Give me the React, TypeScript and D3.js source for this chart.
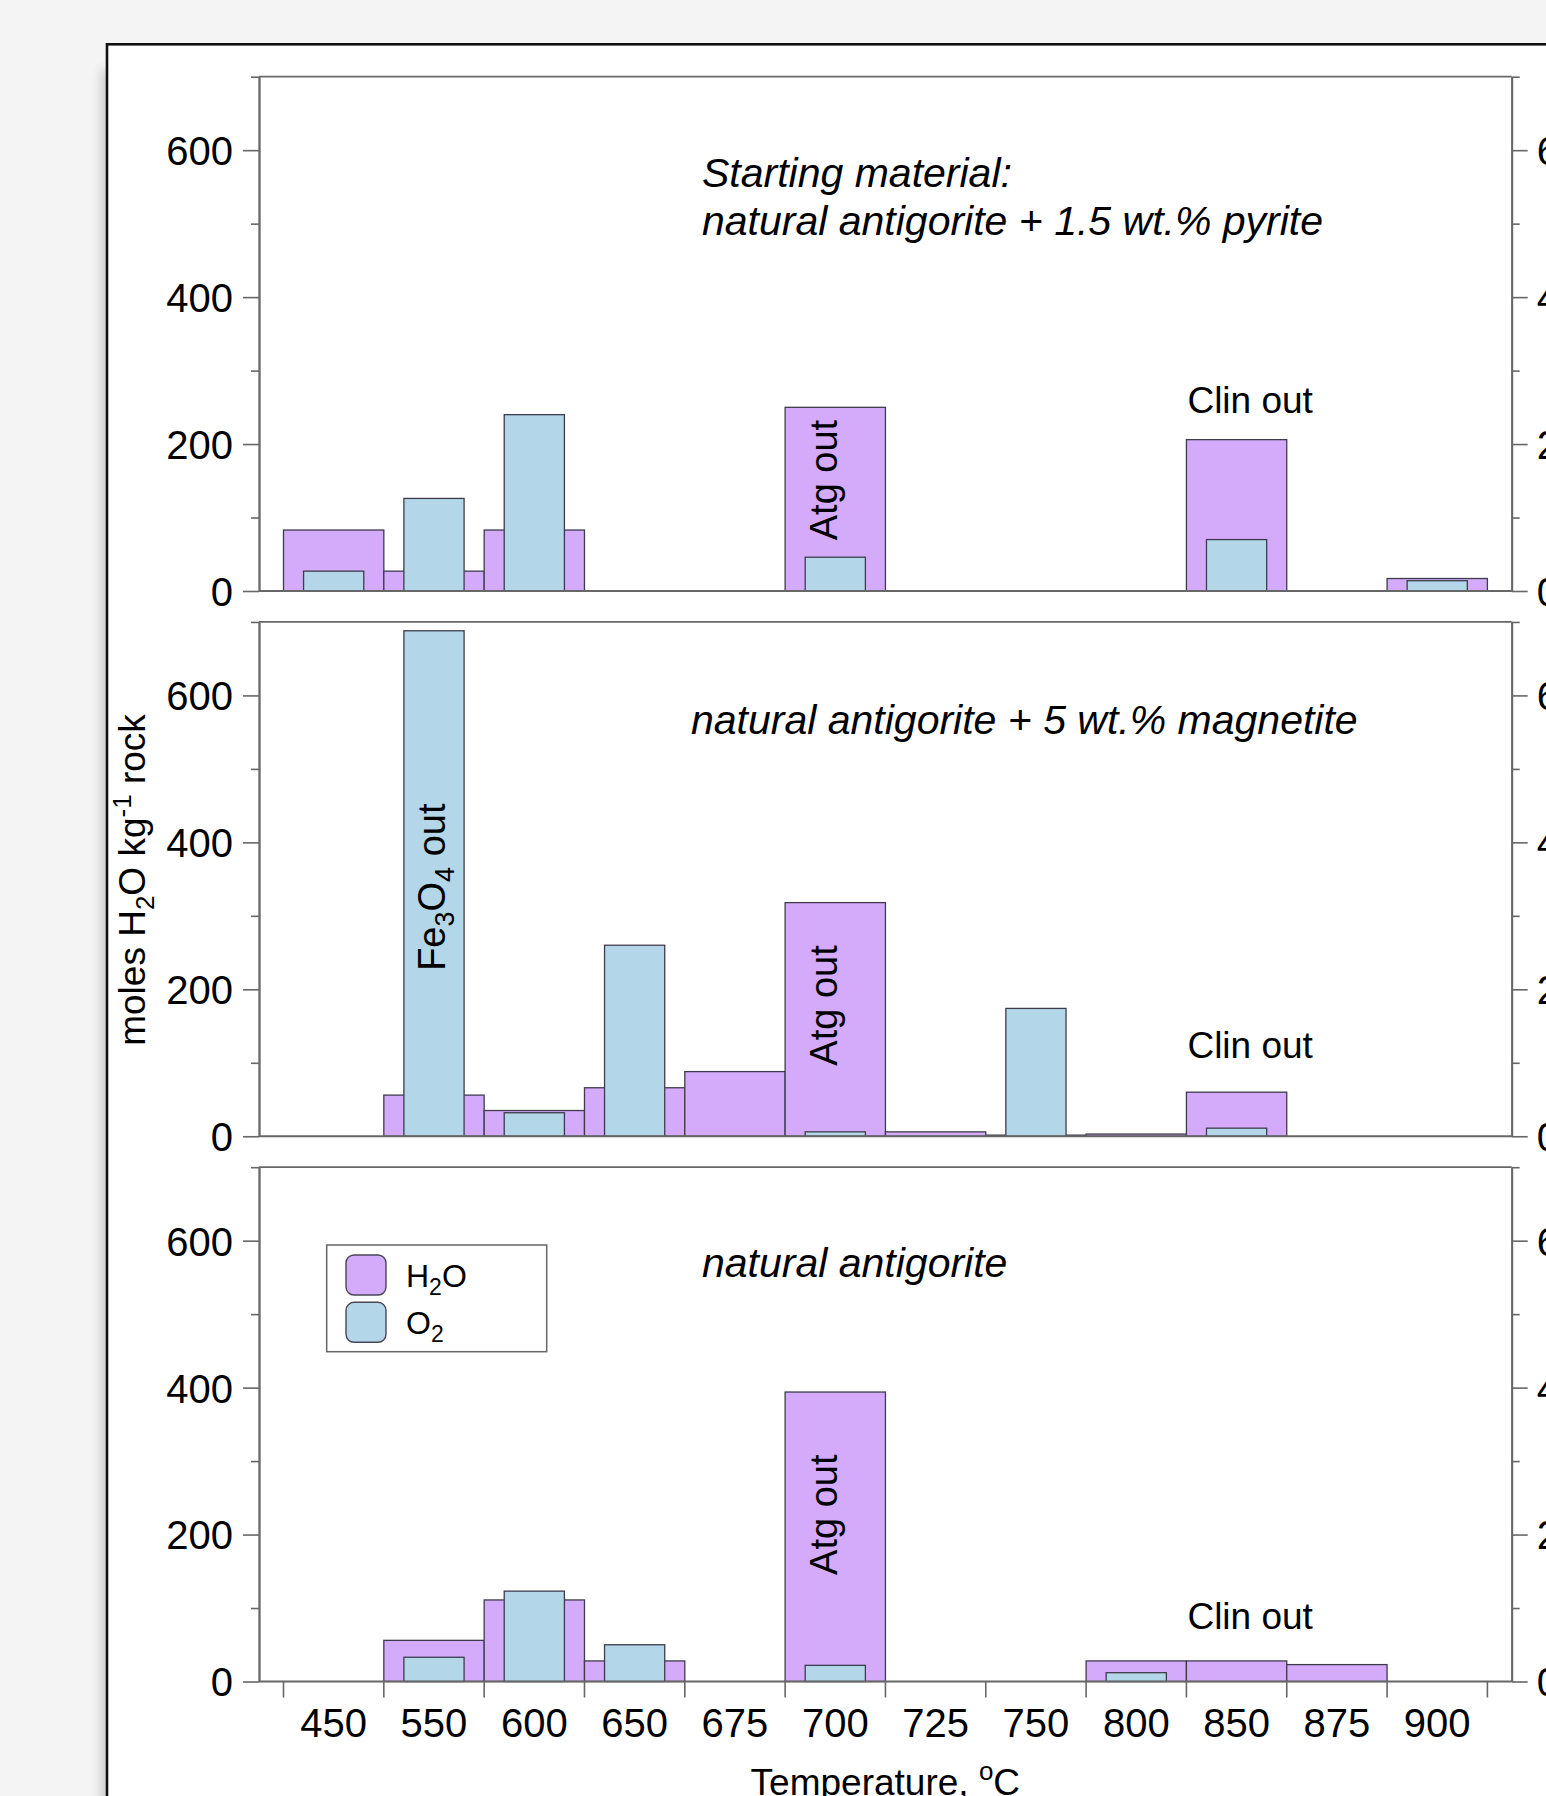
import React, { useRef, useEffect } from 'react';
import * as d3 from 'd3';

// temperature bins (categorical x axis)
const temperatures = ['450', '550', '600', '650', '675', '700', '725', '750', '800', '850', '875', '900'];
const yMajorTicks = [0, 200, 400, 600];
const yMinorTicks = [100, 300, 500, 700];

// natural antigorite + 1.5 wt.% pyrite
const pyriteH2O = [83, 27, 83, 0, 0, 250, 0, 0, 0, 206, 0, 17];
const pyriteO2 = [27, 126, 240, 0, 0, 46, 0, 0, 0, 70, 0, 14];

// natural antigorite + 5 wt.% magnetite
const magnetiteH2O = [0, 56, 35, 66, 88, 318, 6, 1.5, 3, 60, 0, 0];
const magnetiteO2 = [0, 688, 32, 260, 0, 6, 0, 174, 0, 11, 0, 0];

// natural antigorite
const antigoriteH2O = [0, 56, 111, 28, 0, 394, 0, 0, 28, 28, 23, 0];
const antigoriteO2 = [0, 33, 123, 50, 0, 22, 0, 0, 12, 0, 0, 0];

const panelTitles = [
  ['Starting material:', 'natural antigorite + 1.5 wt.% pyrite'],
  ['natural antigorite + 5 wt.% magnetite'],
  ['natural antigorite'],
];

const W = 1546;
const H = 1796;
const FONT = '"Liberation Sans", Arial, Helvetica, sans-serif';
const H2O_COLOR = '#d4abfa';
const O2_COLOR = '#b3d7e8';
const BAR_STROKE = '#3e3c4c';
const AXIS_COLOR = '#676767';

const App = () => {
  const svgRef = useRef<SVGSVGElement>(null);

  useEffect(() => {
    if (!svgRef.current) return;
    const svg = d3.select(svgRef.current);
    svg.selectAll('*').remove();

    const plotLeft = 259;
    const plotRight = 1511.7;
    const panelHeight = 514.3;
    const panelStep = 545.25;
    const firstZero = 591;

    // page background, frame and its soft shadow
    svg.append('rect').attr('width', W).attr('height', H).attr('fill', '#f4f4f4');
    const defs = svg.append('defs');
    defs.append('filter')
      .attr('id', 'blur')
      .attr('x', '-20%').attr('y', '-20%').attr('width', '140%').attr('height', '140%')
      .append('feGaussianBlur')
      .attr('stdDeviation', 6);
    svg.append('rect')
      .attr('x', 101).attr('y', 70).attr('width', W).attr('height', H)
      .attr('fill', '#000').attr('opacity', 0.16)
      .attr('filter', 'url(#blur)');
    svg.append('rect')
      .attr('x', 107).attr('y', 44.3).attr('width', W).attr('height', H)
      .attr('fill', '#fff').attr('stroke', '#111').attr('stroke-width', 2.6);

    const x = d3.scaleBand<string>()
      .domain(temperatures)
      .range([283.5, 1487.4])
      .padding(0);
    const bw = x.bandwidth();

    const series = [
      { h2o: pyriteH2O, o2: pyriteO2 },
      { h2o: magnetiteH2O, o2: magnetiteO2 },
      { h2o: antigoriteH2O, o2: antigoriteO2 },
    ];

    // annotation placement (value = vertical centre / baseline in data units)
    const clinOutAt = [242, 107, 71];
    const atgOutAt = [151, 178, 227];

    series.forEach((s, i) => {
      const zero = firstZero + i * panelStep;
      const y = d3.scaleLinear().domain([0, 700]).range([zero, zero - panelHeight]);
      const g = svg.append('g');

      const h2oData = temperatures.map((t, j) => ({ t, v: s.h2o[j] })).filter(d => d.v > 0);
      const o2Data = temperatures.map((t, j) => ({ t, v: s.o2[j] })).filter(d => d.v > 0);

      g.selectAll('rect.h2o')
        .data(h2oData)
        .join('rect')
        .attr('class', 'h2o')
        .attr('x', d => x(d.t)!)
        .attr('width', bw)
        .attr('y', d => y(d.v))
        .attr('height', d => zero - y(d.v))
        .attr('fill', H2O_COLOR)
        .attr('stroke', BAR_STROKE)
        .attr('stroke-width', 1.3);

      g.selectAll('rect.o2')
        .data(o2Data)
        .join('rect')
        .attr('class', 'o2')
        .attr('x', d => x(d.t)! + bw * 0.2)
        .attr('width', bw * 0.6)
        .attr('y', d => y(d.v))
        .attr('height', d => zero - y(d.v))
        .attr('fill', O2_COLOR)
        .attr('stroke', BAR_STROKE)
        .attr('stroke-width', 1.3);

      // frame lines: top border and zero line
      g.append('line')
        .attr('x1', plotLeft).attr('x2', plotRight)
        .attr('y1', y(700)).attr('y2', y(700))
        .attr('stroke', AXIS_COLOR).attr('stroke-width', 1.8);
      g.append('line')
        .attr('x1', plotLeft).attr('x2', plotRight)
        .attr('y1', zero).attr('y2', zero)
        .attr('stroke', AXIS_COLOR).attr('stroke-width', 1.8);

      const styleAxis = (sel: any) => {
        sel.select('.domain').attr('stroke', AXIS_COLOR).attr('stroke-width', 1.8);
        sel.selectAll('.tick line').attr('stroke', AXIS_COLOR).attr('stroke-width', 1.6);
        sel.selectAll('.tick text')
          .attr('fill', '#000')
          .attr('font-size', 40)
          .attr('font-family', FONT)
          .attr('dy', '0.36em');
      };

      // left axis
      g.append('g')
        .attr('transform', `translate(${plotLeft},0)`)
        .call(d3.axisLeft(y).tickValues(yMajorTicks).tickSize(16).tickSizeOuter(0).tickPadding(10))
        .call(styleAxis);
      g.append('g')
        .attr('transform', `translate(${plotLeft},0)`)
        .call(d3.axisLeft(y).tickValues(yMinorTicks).tickSize(8).tickSizeOuter(0).tickFormat(() => ''))
        .call(styleAxis);

      // right axis
      g.append('g')
        .attr('transform', `translate(${plotRight},0)`)
        .call(d3.axisRight(y).tickValues(yMajorTicks).tickSize(16).tickSizeOuter(0).tickPadding(9))
        .call(styleAxis);
      g.append('g')
        .attr('transform', `translate(${plotRight},0)`)
        .call(d3.axisRight(y).tickValues(yMinorTicks).tickSize(8).tickSizeOuter(0).tickFormat(() => ''))
        .call(styleAxis);

      // panel title
      const titleX = i === 1 ? 691 : 702;
      const titleY = zero - panelHeight + (i === 1 ? 112.4 : 110);
      panelTitles[i].forEach((line, k) => {
        g.append('text')
          .attr('x', titleX)
          .attr('y', titleY + k * 48.5)
          .attr('font-family', FONT)
          .attr('font-style', 'italic')
          .attr('font-size', 41)
          .text(line);
      });

      // "Clin out"
      g.append('text')
        .attr('x', x('850')! + 1)
        .attr('y', y(clinOutAt[i]))
        .attr('font-family', FONT)
        .attr('font-size', 37)
        .text('Clin out');

      // "Atg out" (vertical)
      g.append('text')
        .attr('transform', `translate(${x('700')! + bw / 2 + 2},${y(atgOutAt[i])}) rotate(-90)`)
        .attr('text-anchor', 'middle')
        .attr('font-family', FONT)
        .attr('font-size', 38)
        .text('Atg out');

      if (i === 1) {
        const fe = g.append('text')
          .attr('transform', `translate(${x('550')! + bw / 2 + 11},${y(339)}) rotate(-90)`)
          .attr('text-anchor', 'middle')
          .attr('font-family', FONT)
          .attr('font-size', 38);
        fe.append('tspan').text('Fe');
        fe.append('tspan').attr('font-size', 27).attr('dy', 9).text('3');
        fe.append('tspan').attr('dy', -9).text('O');
        fe.append('tspan').attr('font-size', 27).attr('dy', 9).text('4');
        fe.append('tspan').attr('dy', -9).text(' out');
      }

      if (i === 2) {
        // bottom axis: tick marks on bin boundaries, labels in bin centres
        const bounds = [...temperatures.map(t => x(t)!), x.range()[1]];
        g.selectAll('line.xtick')
          .data(bounds)
          .join('line')
          .attr('class', 'xtick')
          .attr('x1', d => d).attr('x2', d => d)
          .attr('y1', zero).attr('y2', zero + 16)
          .attr('stroke', AXIS_COLOR).attr('stroke-width', 1.6);

        g.append('g')
          .attr('transform', `translate(0,${zero})`)
          .call(d3.axisBottom(x).tickSize(0).tickPadding(27))
          .call(sel => {
            sel.select('.domain').remove();
            sel.selectAll('.tick text')
              .attr('fill', '#000')
              .attr('font-size', 40)
              .attr('font-family', FONT);
          });

        // x axis title
        const xt = g.append('text')
          .attr('x', (plotLeft + plotRight) / 2)
          .attr('y', 1795)
          .attr('text-anchor', 'middle')
          .attr('font-family', FONT)
          .attr('font-size', 37);
        xt.append('tspan').text('Temperature, ');
        xt.append('tspan').attr('font-size', 26).attr('dy', -15).text('o');
        xt.append('tspan').attr('dy', 15).text('C');

        // legend
        const lg = g.append('g');
        lg.append('rect')
          .attr('x', 326.7).attr('y', 1245).attr('width', 220).attr('height', 106.7)
          .attr('fill', '#fff').attr('stroke', '#666').attr('stroke-width', 1.5);
        const items = [
          { color: H2O_COLOR, parts: ['H', '2', 'O'] },
          { color: O2_COLOR, parts: ['O', '2', ''] },
        ];
        items.forEach((it, k) => {
          const yy = 1255 + k * 47.3;
          lg.append('rect')
            .attr('x', 346).attr('y', yy).attr('width', 40).attr('height', 40)
            .attr('rx', 8)
            .attr('fill', it.color).attr('stroke', '#4a4656').attr('stroke-width', 1.4);
          const t = lg.append('text')
            .attr('x', 406).attr('y', yy + 32)
            .attr('font-family', FONT)
            .attr('font-size', 32);
          t.append('tspan').text(it.parts[0]);
          t.append('tspan').attr('font-size', 23).attr('dy', 8).text(it.parts[1]);
          if (it.parts[2]) t.append('tspan').attr('dy', -8).text(it.parts[2]);
        });
      }
    });

    // y axis title
    const yt = svg.append('text')
      .attr('transform', `translate(145,880) rotate(-90)`)
      .attr('text-anchor', 'middle')
      .attr('font-family', FONT)
      .attr('font-size', 37);
    yt.append('tspan').text('moles H');
    yt.append('tspan').attr('font-size', 26).attr('dy', 9).text('2');
    yt.append('tspan').attr('dy', -9).text('O kg');
    yt.append('tspan').attr('font-size', 26).attr('dy', -14).text('-1');
    yt.append('tspan').attr('dy', 14).text(' rock');
  }, []);

  return (
    <svg
      ref={svgRef}
      width={W}
      height={H}
      style={{ position: 'absolute', left: 0, top: 0, display: 'block' }}
    />
  );
};

export default App;
